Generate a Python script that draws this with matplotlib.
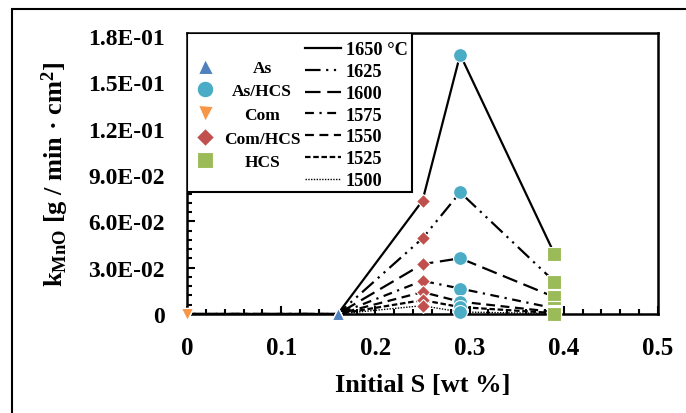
import numpy as np
import matplotlib
matplotlib.use('Agg')
import matplotlib.pyplot as plt
from matplotlib.lines import Line2D
from matplotlib.patches import Rectangle
from matplotlib.ticker import MultipleLocator, FuncFormatter

plt.rcParams['font.family'] = ['Liberation Serif', 'DejaVu Serif']
plt.rcParams['font.weight'] = 'bold'
plt.rcParams['mathtext.fontset'] = 'custom'
plt.rcParams['mathtext.rm'] = 'Liberation Serif:bold'
plt.rcParams['mathtext.it'] = 'Liberation Serif:bold'
plt.rcParams['mathtext.bf'] = 'Liberation Serif:bold'

# Initial S content of each slag / sample type (wt %)
samples = ['As', 'As/HCS', 'Com', 'Com/HCS', 'HCS']
s_init = {'Com': 0.0, 'As': 0.16, 'Com/HCS': 0.25, 'As/HCS': 0.29, 'HCS': 0.39}

temps = ['1650 °C', '1625', '1600', '1575', '1550', '1525', '1500']

# k_MnO [g/min.cm2] for each temperature (1650 ... 1500)
k_com = [0, 0, 0, 0, 0, 0, 0]
k_as = [0, 0, 0, 0, 0, 0, 0]
k_com_hcs = [0.0734, 0.0490, 0.0323, 0.0215, 0.0142, 0.0090, 0.0054]
k_as_hcs = [0.168, 0.0788, 0.0361, 0.0165, 0.0080, 0.0045, 0.0013]
k_hcs = [0.0390, 0.0210, 0.0110, 0.0037, 0.0013, 0.0006, 0.0003]

k_vals = {'Com': k_com, 'As': k_as, 'Com/HCS': k_com_hcs,
          'As/HCS': k_as_hcs, 'HCS': k_hcs}

line_styles = ['-', (0, (7, 2.5, 1, 2.5, 1, 2.5)), (0, (7, 3)),
               (0, (4, 2.5, 1, 2.5)), (0, (4, 2.5)), (0, (2.5, 1.2)), (0, (1, 1))]
marker_style = {'As': ('^', '#4F81BD', 9), 'As/HCS': ('o', '#4BACC6', 10),
                'Com': ('v', '#F79646', 9), 'Com/HCS': ('D', '#C0504D', 7.5),
                'HCS': ('s', '#9BBB59', 10)}

fig = plt.figure(figsize=(6.86, 4.14), dpi=100)
ax = fig.add_axes([0.2726, 0.2391, 0.6866, 0.6788])

order = ['Com', 'As', 'Com/HCS', 'As/HCS', 'HCS']
xs = [s_init[n] for n in order]
line_handles = []
for i, t in enumerate(temps):
    ys = [k_vals[n][i] for n in order]
    lw = 1.0 if i == 6 else 1.6
    h, = ax.plot(xs, ys, color='black', ls=line_styles[i], lw=lw, zorder=2)
    line_handles.append(h)

marker_handles = []
for n in samples:
    m, c, ms = marker_style[n]
    ax.plot([s_init[n]] * len(k_vals[n]), k_vals[n], ls='none', marker=m,
            color=c, ms=ms, mec='white', mew=0.8, zorder=3, clip_on=False)
    marker_handles.append(Line2D([], [], ls='none', marker=m, color=c, ms=ms * 1.2,
                                 mec='white', mew=0.8))

ax.set_xlim(0, 0.5)
ax.set_ylim(0, 0.182)
ax.xaxis.set_major_locator(MultipleLocator(0.1))
ax.xaxis.set_minor_locator(MultipleLocator(0.02))
ax.yaxis.set_major_locator(MultipleLocator(0.03))
ax.yaxis.set_minor_locator(MultipleLocator(0.006))
ax.xaxis.set_major_formatter(FuncFormatter(lambda v, p: '0' if abs(v) < 1e-9 else f'{v:g}'))
ax.yaxis.set_major_formatter(FuncFormatter(lambda v, p: '0' if abs(v) < 1e-9 else f'{v:.1E}'))
ax.tick_params(which='both', direction='in', width=1.5, top=False, right=False)
ax.tick_params(which='major', length=6)
ax.tick_params(which='minor', length=3.5)
ax.tick_params(axis='y', labelsize=17, pad=16)
ax.tick_params(axis='x', labelsize=18, pad=16)
for sp in ax.spines.values():
    sp.set_linewidth(1.8)

ax.set_xlabel('Initial S [wt %]', fontsize=19, fontweight='bold', labelpad=10)
ax.set_ylabel(r'k$_{\rm MnO}$ [g / min · cm$^{\rm 2}$]', fontsize=19,
              fontweight='bold', labelpad=12)

# legend box
ax.add_patch(Rectangle((0, 0.434), 0.478, 0.566, transform=ax.transAxes,
                       fill=True, facecolor='white', edgecolor='black', lw=1.5, zorder=4))

leg1 = ax.legend(marker_handles, samples, loc='upper left', bbox_to_anchor=(0.014, 0.905),
                 frameon=False, fontsize=12.5, handlelength=1.3, handletextpad=0.45,
                 labelspacing=0.43, borderpad=0, borderaxespad=0)
leg1.set_zorder(5)
ax.add_artist(leg1)
leg2 = ax.legend(line_handles, temps, loc='upper left', bbox_to_anchor=(0.25, 0.97),
                 frameon=False, fontsize=13.2, handlelength=2.0, handletextpad=0.25,
                 labelspacing=0.26, borderpad=0, borderaxespad=0)
leg2.set_zorder(5)

# centre the sample labels in their column
fig.canvas.draw()
r = fig.canvas.get_renderer()
ws = [t.get_window_extent(r).width for t in leg1.get_texts()]
for t, w in zip(leg1.get_texts(), ws):
    t.set_position(((max(ws) - w) / 2, 0))

# outer frame
fig.add_artist(Rectangle((12 / 686, -0.5), 2, 1.5 - 10 / 414, transform=fig.transFigure,
                         fill=False, edgecolor='black', lw=1.5))

fig.savefig('out.png', dpi=100)
